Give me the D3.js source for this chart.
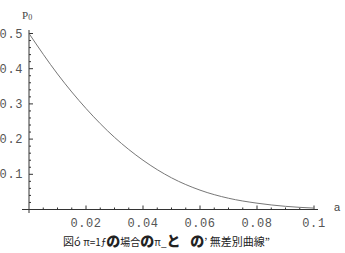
<!DOCTYPE html>
<html>
<head>
<meta charset="utf-8">
<script src="https://cdn.jsdelivr.net/npm/d3@7"></script>
<style>
    body { margin: 0; background: #fff; }
    svg { display: block; }
</style>
</head>
<body>
<script>
// values
const aValues = [0, 0.01, 0.02, 0.03, 0.04, 0.05, 0.06, 0.07, 0.08, 0.09, 0.1];
const p0Values = [0.5, 0.385, 0.287, 0.205, 0.14, 0.09, 0.055, 0.032, 0.018, 0.009, 0.004];
const xTicks = [0.02, 0.04, 0.06, 0.08, 0.1];
const yTicks = [0.1, 0.2, 0.3, 0.4, 0.5];

const width = 345;
const height = 253;

const x = d3.scaleLinear().domain([0, 0.1]).range([29, 314]);
const y = d3.scaleLinear().domain([0, 0.5]).range([209.5, 33.5]);

const svg = d3.select(document.body).append("svg")
    .attr("width", width)
    .attr("height", height);

const axisColor = "#333";
const labelFont = "'Liberation Mono', 'DejaVu Sans Mono', monospace";

// axes lines
svg.append("line")
    .attr("x1", 22).attr("x2", 318)
    .attr("y1", y(0)).attr("y2", y(0))
    .attr("stroke", axisColor).attr("stroke-width", 1);
svg.append("line")
    .attr("x1", x(0)).attr("x2", x(0))
    .attr("y1", 30).attr("y2", 213)
    .attr("stroke", axisColor).attr("stroke-width", 1);

// x ticks: minor every 0.005, major at labels
const xMinor = d3.range(1, 21).map(i => i * 0.005);
svg.append("g").selectAll("line")
    .data(xMinor)
    .join("line")
    .attr("x1", d => x(d)).attr("x2", d => x(d))
    .attr("y1", y(0))
    .attr("y2", (d, i) => y(0) - ((i + 1) % 4 === 0 ? 4 : 2))
    .attr("stroke", axisColor).attr("stroke-width", 1);

svg.append("g").selectAll("text")
    .data(xTicks)
    .join("text")
    .attr("x", d => x(d))
    .attr("y", 227)
    .attr("text-anchor", "middle")
    .attr("font-family", labelFont)
    .attr("font-size", 12)
    .attr("letter-spacing", 0.6)
    .attr("fill", "#555")
    .text(d => d === 0.1 ? "0.1" : d.toFixed(2));

// y ticks: minor every 0.02
const yMinor = d3.range(1, 26).map(i => i * 0.02);
svg.append("g").selectAll("line")
    .data(yMinor)
    .join("line")
    .attr("x1", x(0))
    .attr("x2", (d, i) => x(0) + ((i + 1) % 5 === 0 ? 4 : 2))
    .attr("y1", d => y(d)).attr("y2", d => y(d))
    .attr("stroke", axisColor).attr("stroke-width", 1);

svg.append("g").selectAll("text")
    .data(yTicks)
    .join("text")
    .attr("x", 23)
    .attr("y", d => y(d) + 4)
    .attr("text-anchor", "end")
    .attr("font-family", labelFont)
    .attr("font-size", 12)
    .attr("letter-spacing", 0.6)
    .attr("fill", "#555")
    .text(d => d.toFixed(1));

// axis labels
const p0 = svg.append("text")
    .attr("x", 22).attr("y", 19)
    .attr("font-family", "'Liberation Serif', serif")
    .attr("font-size", 11)
    .attr("fill", "#444");
p0.append("tspan").text("P");
p0.append("tspan").attr("font-size", 8).attr("dy", 1).text("0");

svg.append("text")
    .attr("x", 334).attr("y", 211)
    .attr("font-family", "'Liberation Sans', sans-serif")
    .attr("font-size", 11)
    .attr("fill", "#444")
    .text("a");

// curve
const line = d3.line()
    .x((d, i) => x(aValues[i]))
    .y(d => y(d))
    .curve(d3.curveMonotoneX);

svg.append("path")
    .datum(p0Values)
    .attr("fill", "none")
    .attr("stroke", "#777")
    .attr("stroke-width", 1)
    .attr("d", line);

// caption (garbled in the original scan)
const caption = svg.append("text")
    .attr("x", 63).attr("y", 246)
    .attr("font-family", "'Noto Sans CJK JP', sans-serif")
    .attr("font-size", 11)
    .attr("fill", "#222");
const parts = [
    ["図ó ", 11, 400],
    ["π=1ƒ", 10, 400],
    ["の", 14, 900],
    ["場合", 10, 400],
    ["の", 14, 900],
    ["π_", 10, 400],
    ["と", 14, 900],
    ["\u00a0\u00a0\u00a0\u00a0", 11, 400],
    ["の", 14, 900],
    ["’ 無差別曲線”", 11, 400],
];
parts.forEach(([t, s, w]) => {
    caption.append("tspan")
        .attr("font-size", s)
        .attr("font-weight", w)
        .text(t);
});
</script>
</body>
</html>
